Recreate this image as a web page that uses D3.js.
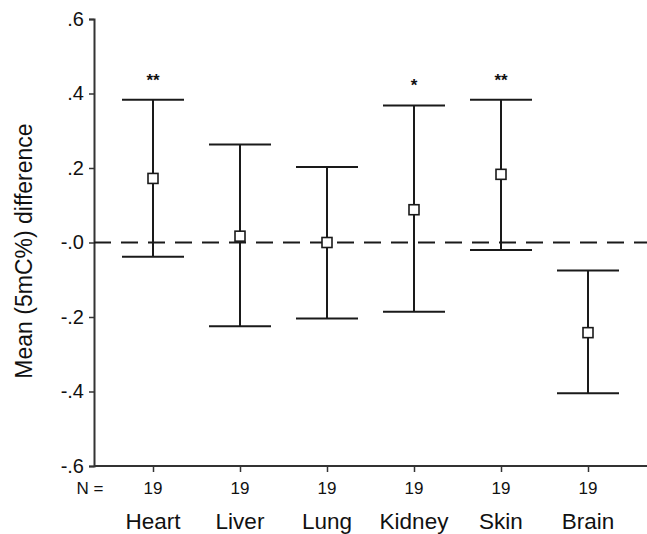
<!DOCTYPE html>
<html lang="en">
<head>
<meta charset="UTF-8">
<title>Mean 5mC% difference by tissue</title>
<script src="https://d3js.org/d3.v7.min.js"></script>
<style>
  body { margin: 0; padding: 0; background: #fff; font-family: "Liberation Sans", Arial, sans-serif; }
  svg text { fill: #111; }
</style>
</head>
<body>
<svg id="chart" width="647" height="534"></svg>
<script>
// data
const tissues = ["Heart", "Liver", "Lung", "Kidney", "Skin", "Brain"];
const means = [0.172, 0.017, 0.0, 0.088, 0.183, -0.242];
const upper = [0.383, 0.263, 0.203, 0.368, 0.383, -0.075];
const lower = [-0.038, -0.225, -0.204, -0.186, -0.020, -0.405];
const nCounts = [19, 19, 19, 19, 19, 19];
const stars = ["**", "", "", "*", "**", ""];
const yTicks = [0.6, 0.4, 0.2, 0, -0.2, -0.4, -0.6];

const svg = d3.select("#chart");
const margin = { top: 19, right: 0, bottom: 68, left: 94 };
const width = 647;
const height = 534;

const y = d3.scaleLinear()
    .domain([-0.6, 0.6])
    .range([height - margin.bottom, margin.top]);

// category centres
const x = d3.scalePoint()
    .domain(tissues)
    .range([153, 588]);

const ink = "#1a1a1a";
const font = "Liberation Sans, Arial, sans-serif";

// y axis
const fmt = d => d === 0 ? "-.0" : (d < 0 ? "-" : "") + d3.format(".1f")(Math.abs(d)).replace(/^0/, "");
const yAxis = svg.append("g")
    .attr("transform", `translate(${margin.left},0)`)
    .call(d3.axisLeft(y).tickValues(yTicks).tickFormat(fmt).tickSize(5).tickPadding(5));
yAxis.select(".domain").attr("stroke", "#333").attr("stroke-width", 2);
yAxis.selectAll(".tick line").attr("stroke", "#333").attr("stroke-width", 1.5);
yAxis.selectAll(".tick text").attr("font-size", 20).attr("font-family", font).attr("fill", "#111");

// x axis
const xAxis = svg.append("g")
    .attr("transform", `translate(0,${y(-0.6)})`)
    .call(d3.axisBottom(x).tickSize(6).tickFormat(""));
xAxis.select(".domain").attr("d", `M${margin.left},0H${width}`).attr("stroke", "#333").attr("stroke-width", 2);
xAxis.selectAll(".tick line").attr("stroke", "#333").attr("stroke-width", 1.5);

// N row
svg.append("text")
    .attr("x", 90).attr("y", 494)
    .attr("text-anchor", "middle")
    .attr("font-size", 17)
    .text("N =");
svg.selectAll(".ncount")
    .data(tissues)
    .join("text")
    .attr("class", "ncount")
    .attr("x", d => x(d))
    .attr("y", 494)
    .attr("text-anchor", "middle")
    .attr("font-size", 17)
    .text((d, i) => nCounts[i]);

// tissue names
svg.selectAll(".cat")
    .data(tissues)
    .join("text")
    .attr("class", "cat")
    .attr("x", d => x(d))
    .attr("y", 529)
    .attr("text-anchor", "middle")
    .attr("font-size", 22.5)
    .text(d => d);

// y title
svg.append("text")
    .attr("transform", `translate(32,251) rotate(-90)`)
    .attr("text-anchor", "middle")
    .attr("font-size", 23)
    .text("Mean (5mC%) difference");

// zero reference line
svg.append("line")
    .attr("x1", margin.left).attr("x2", width)
    .attr("y1", y(0)).attr("y2", y(0))
    .attr("stroke", ink).attr("stroke-width", 2)
    .attr("stroke-dasharray", "17,10");

// error bars
const rows = tissues.map((t, i) => ({ t, m: means[i], hi: upper[i], lo: lower[i], s: stars[i] }));
const capHalf = 31;
const g = svg.append("g");

g.selectAll(".stem")
    .data(rows)
    .join("line")
    .attr("x1", d => x(d.t)).attr("x2", d => x(d.t))
    .attr("y1", d => y(d.hi)).attr("y2", d => y(d.lo))
    .attr("stroke", ink).attr("stroke-width", 2);

g.selectAll(".capHi")
    .data(rows)
    .join("line")
    .attr("x1", d => x(d.t) - capHalf).attr("x2", d => x(d.t) + capHalf)
    .attr("y1", d => y(d.hi)).attr("y2", d => y(d.hi))
    .attr("stroke", ink).attr("stroke-width", 2);

g.selectAll(".capLo")
    .data(rows)
    .join("line")
    .attr("x1", d => x(d.t) - capHalf).attr("x2", d => x(d.t) + capHalf)
    .attr("y1", d => y(d.lo)).attr("y2", d => y(d.lo))
    .attr("stroke", ink).attr("stroke-width", 2);

g.selectAll(".mark")
    .data(rows)
    .join("rect")
    .attr("x", d => x(d.t) - 5).attr("y", d => y(d.m) - 5)
    .attr("width", 10).attr("height", 10)
    .attr("fill", "#fff").attr("stroke", ink).attr("stroke-width", 1.6);

g.selectAll(".star")
    .data(rows.filter(d => d.s))
    .join("text")
    .attr("x", d => x(d.t))
    .attr("y", d => y(d.hi) - 14)
    .attr("text-anchor", "middle")
    .attr("font-size", 17)
    .attr("font-weight", "bold")
    .text(d => d.s);
</script>
</body>
</html>
